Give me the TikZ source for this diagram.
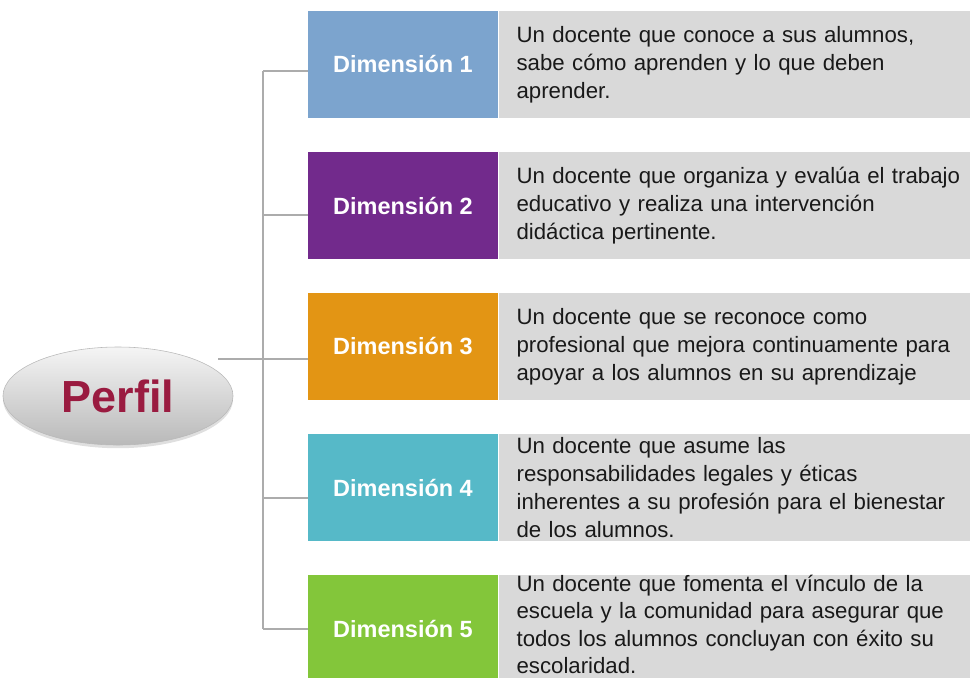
\documentclass[tikz,border=0pt]{standalone}
\usepackage{fontspec}
\setmainfont{Liberation Sans}
\usetikzlibrary{shapes}
\usetikzlibrary{positioning}
\usetikzlibrary{shadows}
\definecolor{dimA}{RGB}{124,164,206}
\definecolor{dimB}{RGB}{114,42,140}
\definecolor{dimC}{RGB}{227,149,20}
\definecolor{dimD}{RGB}{86,185,200}
\definecolor{dimE}{RGB}{131,198,58}
\definecolor{descgray}{RGB}{217,217,217}
\definecolor{perfilred}{RGB}{154,27,64}
\tikzset{
    perfilnode/.style = {ellipse, draw=gray!55, minimum width=5.75cm, minimum height=2.45cm, inner sep=0pt, top color=gray!8, bottom color=gray!55, drop shadow={opacity=0.25, shadow xshift=0pt, shadow yshift=-0.08cm}, font=\bfseries\fontsize{32}{36}\selectfont, text=perfilred},
    dimnode/.style = {rectangle, minimum width=4.75cm, minimum height=2.675cm, inner sep=0pt, font=\bfseries\fontsize{16.7}{20}\selectfont, text=white},
    descnode/.style = {rectangle, fill=descgray, minimum height=2.675cm, text width=11.2cm, inner xsep=0.45cm, inner ysep=0pt, align=left, font=\fontsize{15.8}{19.9}\selectfont, text=black!90},
    edgeg/.style = {-, line width=0.9pt, gray!65},
}

\begin{document}
\begin{tikzpicture}[x=0.025cm, y=-0.025cm]
\clip (0,0) rectangle (970,677);
%
\node[perfilnode] at (118,396) (perfil) {Perfil};
%
\node[dimnode, fill=dimA] at (403,64.5) (d1) {Dimensión 1};
\node[dimnode, fill=dimB] at (403,205.5) (d2) {Dimensión 2};
\node[dimnode, fill=dimC] at (403,346.5) (d3) {Dimensión 3};
\node[dimnode, fill=dimD] at (403,487.5) (d4) {Dimensión 4};
\node[dimnode, fill=dimE] at (403,628.5) (d5) {Dimensión 5};
%
\node[descnode, right=0pt of d1] (t1) {Un docente que conoce a sus alumnos,\\sabe cómo aprenden y lo que deben\\aprender.};
\node[descnode, right=0pt of d2] (t2) {Un docente que organiza y evalúa el trabajo\\educativo y realiza una intervención\\didáctica pertinente.};
\node[descnode, right=0pt of d3] (t3) {Un docente que se reconoce como\\profesional que mejora continuamente para\\apoyar a los alumnos en su aprendizaje};
\node[descnode, right=0pt of d4] (t4) {Un docente que asume las\\responsabilidades legales y éticas\\inherentes a su profesión para el bienestar\\de los alumnos.};
\node[descnode, anchor=north west, font=\fontsize{15.8}{19.5}\selectfont] at (d5.north east) (t5) {Un docente que fomenta el vínculo de la\\escuela y la comunidad para asegurar que\\todos los alumnos concluyan con éxito su\\escolaridad.\rule[-8pt]{0pt}{8pt}};
%
\coordinate (p) at (218,359);
\coordinate (j1) at (263,71);
\coordinate (j2) at (263,215);
\coordinate (j3) at (263,359);
\coordinate (j4) at (263,498);
\coordinate (j5) at (263,629);
%
\draw[edgeg] (j1) -- (j5);
\draw[edgeg] (p) -- (j3);
\draw[edgeg] (j1) -- (j1 -| d1.west);
\draw[edgeg] (j2) -- (j2 -| d2.west);
\draw[edgeg] (j3) -- (j3 -| d3.west);
\draw[edgeg] (j4) -- (j4 -| d4.west);
\draw[edgeg] (j5) -- (j5 -| d5.west);

\end{tikzpicture}
\end{document}
